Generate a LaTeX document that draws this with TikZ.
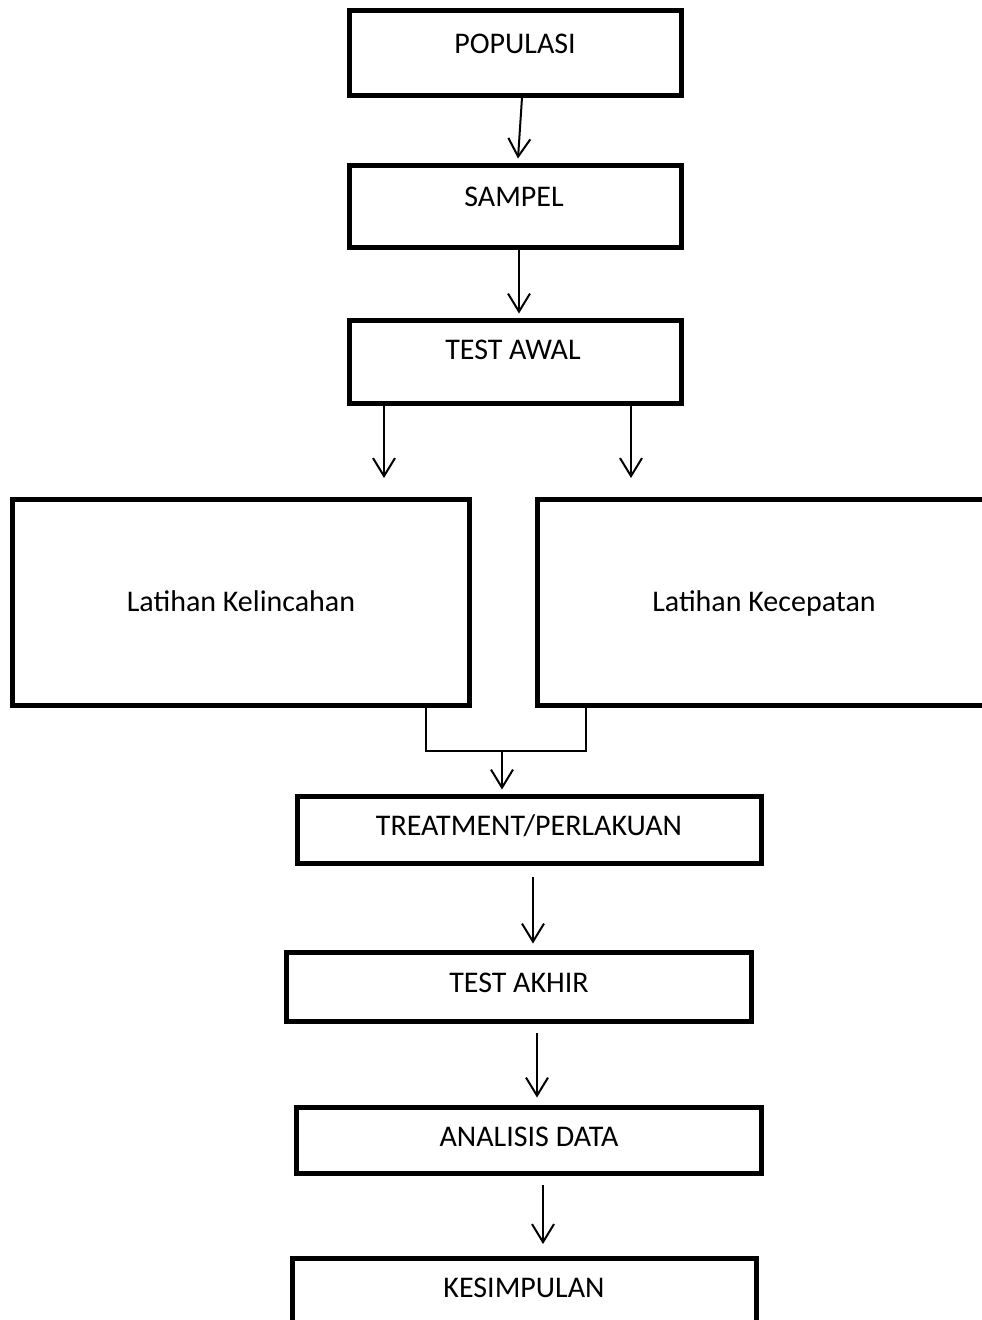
\documentclass[tikz,border=0pt]{standalone}
\usepackage{fontspec}
\setmainfont{Carlito}
\usetikzlibrary{arrows.meta,calc}
\begin{document}
\begin{tikzpicture}[x=1pt,y=-1pt,
  box/.style={draw=black,line width=5pt,rectangle,inner sep=0pt},
  lbl/.style={inner sep=0pt,text height=19pt,text depth=0pt,font=\fontsize{30}{32}\selectfont},
  conn/.style={draw=black,line width=2pt},
  arr/.style={conn,-{Straight Barb[length=18pt,width=22pt,line width=2pt]}}]
\useasboundingbox (0,0) rectangle (982,1320);
\clip (0,0) rectangle (982,1320);
% boxes
\node[box,minimum width=332pt,minimum height=85pt] (pop) at (515,52.5) {};
\node[box,minimum width=332pt,minimum height=82pt] (samp) at (515,206) {};
\node[box,minimum width=332pt,minimum height=83pt] (awal) at (515,361.5) {};
\node[box,minimum width=457pt,minimum height=206pt] (kel) at (240.5,602) {};
\node[box,minimum width=456pt,minimum height=206pt] (kec) at (765,602) {};
\node[box,minimum width=464pt,minimum height=67pt] (treat) at (529,829.5) {};
\node[box,minimum width=465pt,minimum height=69pt] (akhir) at (518.5,986.5) {};
\node[box,minimum width=465pt,minimum height=66pt] (anal) at (528.5,1140) {};
\node[box,minimum width=464pt,minimum height=83pt] (kes) at (524,1300) {};
% texts
\node[lbl] (tpop) at (515,44) {POPULASI};
\node[lbl] (tsamp) at (514,197) {SAMPEL};
\node[lbl] (tawal) at (513,350) {TEST AWAL};
\node[lbl] (tkel) at (241,602) {Latihan Kelincahan};
\node[lbl] (tkec) at (764,602) {Latihan Kecepatan};
\node[lbl] (ttreat) at (529,826) {TREATMENT/PERLAKUAN};
\node[lbl] (takhir) at (519,983) {TEST AKHIR};
\node[lbl] (tanal) at (529,1137) {ANALISIS DATA};
\node[lbl] (tkes) at (524,1288) {KESIMPULAN};
% connectors
\coordinate (a1) at ($(pop.south)+(7,0)$);
\coordinate (a2) at ($(samp.north)+(3,-4)$);
\draw[arr] (a1) -- (a2);
\coordinate (b1) at ($(samp.south)+(4,0)$);
\coordinate (b2) at ($(awal.north)+(4,-4)$);
\draw[arr] (b1) -- (b2);
\coordinate (c1) at (384,403);
\coordinate (c2) at (384,478);
\draw[arr] (c1 |- awal.south) -- (c2);
\coordinate (d2) at (631,478);
\draw[arr] (d2 |- awal.south) -- (d2);
\coordinate (m) at (502,751);
\draw[conn] (426,0 |- kel.south) -- (426,751) -- (586,751) -- (586,0 |- kec.south);
\draw[arr] (m) -- ($(treat.north)+(-27,-4)$);
\coordinate (e1) at (533,877);
\draw[arr] (e1) -- ($(akhir.north)+(14.5,-6)$);
\coordinate (f1) at (537,1033);
\draw[arr] (f1) -- ($(anal.north)+(8.5,-7)$);
\coordinate (g1) at (543,1185);
\draw[arr] (g1) -- ($(kes.north)+(19,-12)$);
\end{tikzpicture}
\end{document}
